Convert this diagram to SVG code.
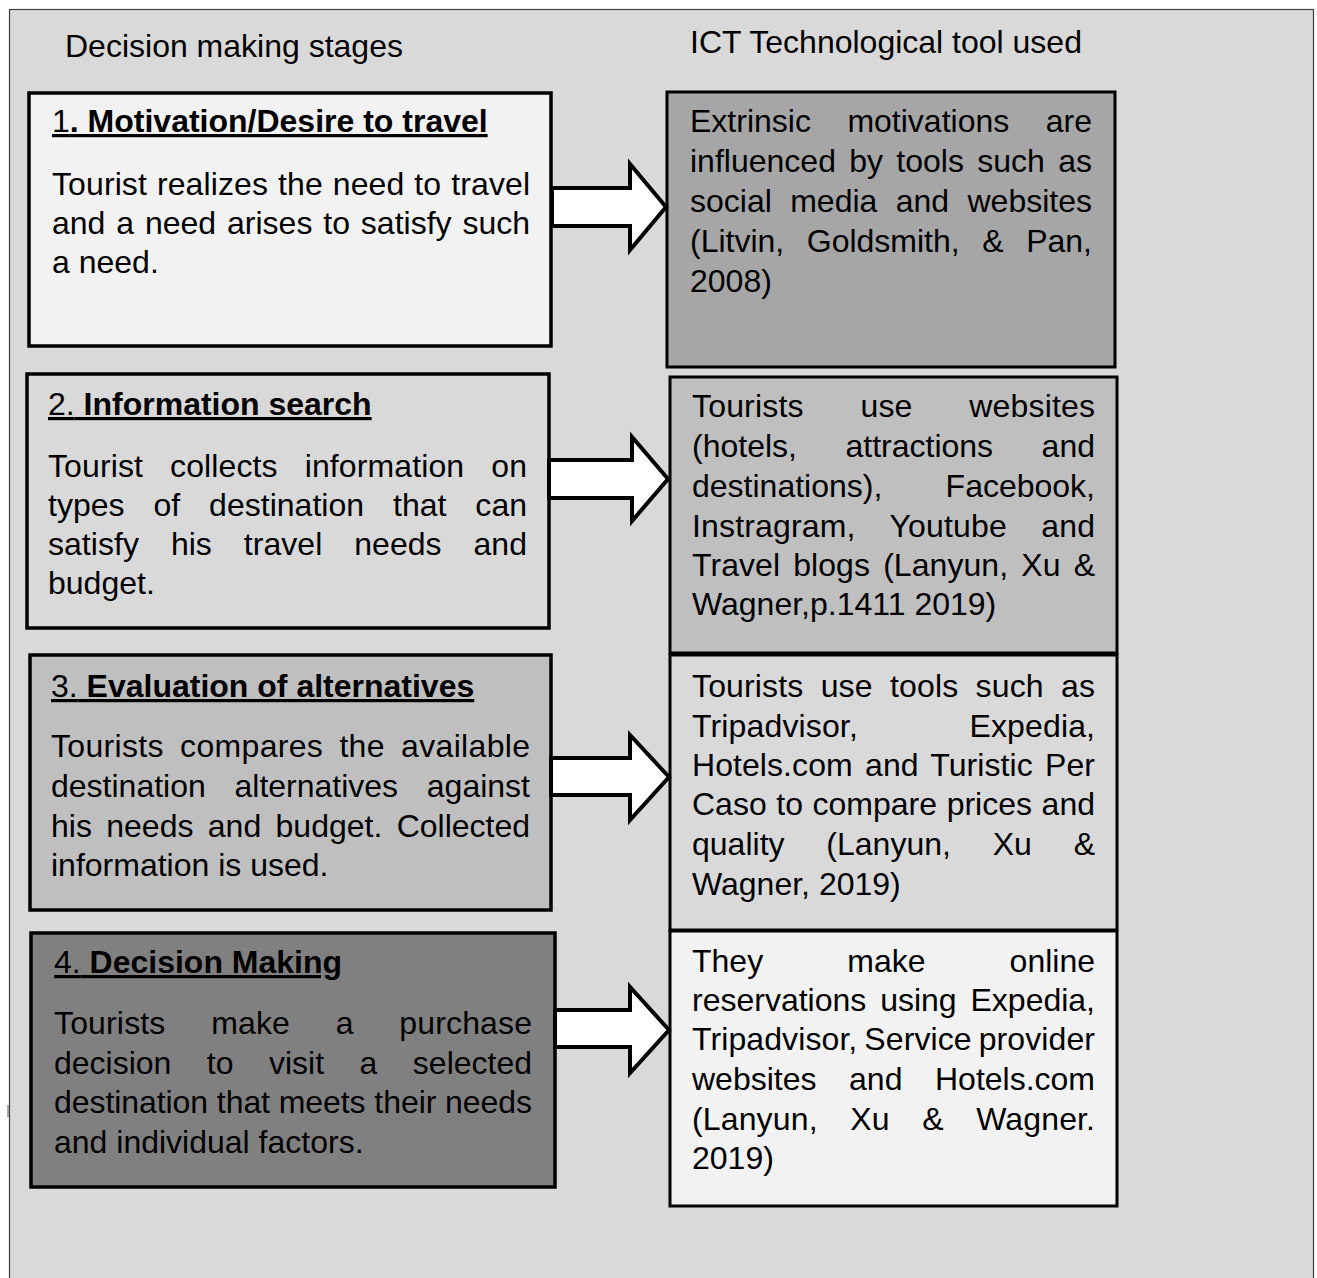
<svg xmlns="http://www.w3.org/2000/svg" width="1317" height="1278" viewBox="0 0 1317 1278">
  <style>
    text { font-family: "Liberation Sans", Arial, sans-serif; font-size: 32px; fill: #000; }
    .b { font-weight: bold; }
    .u { text-decoration: underline; }
    .stage { stroke: #000; stroke-width: 3.5; }
    .tool { stroke: #000; stroke-width: 3; }
    .arrow { fill: #fff; stroke: #000; stroke-width: 4; stroke-linejoin: miter; }
  </style>

  <!-- page background and frame -->
  <rect x="0" y="0" width="1317" height="1278" fill="#fff"/>
  <rect x="9.5" y="9.5" width="1304" height="1300" fill="#d9d9d9" stroke="#404040" stroke-width="1.2"/>
  <line x1="8" y1="1105" x2="8" y2="1117" stroke="#555" stroke-width="1"/>

  <!-- column headings -->
  <text id="head-stages" x="65" y="57">Decision making stages</text>
  <text id="head-tools" x="690" y="53">ICT Technological tool used</text>

  <!-- stage 1 -->
  <g id="stage1">
    <rect class="stage" x="29" y="93" width="522" height="253" fill="#f2f2f2"/>
    <text class="u" x="52" y="132">1<tspan class="b">. Motivation/Desire to travel</tspan></text>
    <text x="52" y="195" word-spacing="1" textLength="478" lengthAdjust="spacing">Tourist realizes the need to travel</text>
    <text x="52" y="234" word-spacing="2" textLength="478" lengthAdjust="spacing">and a need arises to satisfy such</text>
    <text x="52" y="273">a need.</text>
  </g>

  <!-- stage 2 -->
  <g id="stage2">
    <rect class="stage" x="27" y="374" width="522" height="254" fill="#d9d9d9"/>
    <text class="u" x="48" y="415">2.<tspan class="b"> Information search</tspan></text>
    <text x="48" y="477" word-spacing="18" textLength="479" lengthAdjust="spacing">Tourist collects information on</text>
    <text x="48" y="516" word-spacing="20" textLength="479" lengthAdjust="spacing">types of destination that can</text>
    <text x="48" y="555" word-spacing="23" textLength="479" lengthAdjust="spacing">satisfy his travel needs and</text>
    <text x="48" y="594">budget.</text>
  </g>

  <!-- stage 3 -->
  <g id="stage3">
    <rect class="stage" x="30" y="655" width="521" height="255" fill="#bfbfbf"/>
    <text class="u" x="51" y="697">3.<tspan class="b"> Evaluation of alternatives</tspan></text>
    <text x="51" y="757" word-spacing="7" textLength="479" lengthAdjust="spacing">Tourists compares the available</text>
    <text x="51" y="797" word-spacing="19.8" textLength="479" lengthAdjust="spacing">destination alternatives against</text>
    <text x="51" y="837" word-spacing="5.5" textLength="479" lengthAdjust="spacing">his needs and budget. Collected</text>
    <text x="51" y="876">information is used.</text>
  </g>

  <!-- stage 4 -->
  <g id="stage4">
    <rect class="stage" x="31" y="933" width="524" height="254" fill="#808080"/>
    <text class="u" x="54" y="973">4.<tspan class="b"> Decision Making</tspan></text>
    <text x="54" y="1034" word-spacing="36.6" textLength="478" lengthAdjust="spacing">Tourists make a purchase</text>
    <text x="54" y="1074" word-spacing="26.6" textLength="478" lengthAdjust="spacing">decision to visit a selected</text>
    <text x="54" y="1113" word-spacing="0" textLength="478" lengthAdjust="spacing">destination that meets their needs</text>
    <text x="54" y="1153">and individual factors.</text>
  </g>

  <!-- tool 1 -->
  <g id="tool1">
    <rect class="tool" x="667" y="92" width="448" height="275" fill="#a6a6a6"/>
    <text x="690" y="132" word-spacing="27.6" textLength="402" lengthAdjust="spacing">Extrinsic motivations are</text>
    <text x="690" y="172" word-spacing="4.4" textLength="402" lengthAdjust="spacing">influenced by tools such as</text>
    <text x="690" y="212" word-spacing="9.5" textLength="402" lengthAdjust="spacing">social media and websites</text>
    <text x="690" y="252" word-spacing="13.7" textLength="402" lengthAdjust="spacing">(Litvin, Goldsmith, &amp; Pan,</text>
    <text x="690" y="292">2008)</text>
  </g>

  <!-- tool 2 -->
  <g id="tool2">
    <rect class="tool" x="670" y="377" width="447" height="276" fill="#bfbfbf"/>
    <text x="692" y="417" word-spacing="47.7" textLength="403" lengthAdjust="spacing">Tourists use websites</text>
    <text x="692" y="457" word-spacing="39.6" textLength="403" lengthAdjust="spacing">(hotels, attractions and</text>
    <text x="692" y="497" word-spacing="54.4" textLength="403" lengthAdjust="spacing">destinations), Facebook,</text>
    <text x="692" y="537" word-spacing="25.4" textLength="403" lengthAdjust="spacing">Instragram, Youtube and</text>
    <text x="692" y="576" word-spacing="4.2" textLength="403" lengthAdjust="spacing">Travel blogs (Lanyun, Xu &amp;</text>
    <text x="692" y="615">Wagner,p.1411 2019)</text>
  </g>

  <!-- tool 3 -->
  <g id="tool3">
    <rect class="tool" x="670" y="655" width="447" height="275" fill="#d9d9d9"/>
    <text x="692" y="697" word-spacing="8.3" textLength="403" lengthAdjust="spacing">Tourists use tools such as</text>
    <text x="692" y="737" word-spacing="102.5" textLength="403" lengthAdjust="spacing">Tripadvisor, Expedia,</text>
    <text x="692" y="776" word-spacing="3.3" textLength="403" lengthAdjust="spacing">Hotels.com and Turistic Per</text>
    <text x="692" y="815" word-spacing="0.7" textLength="403" lengthAdjust="spacing">Caso to compare prices and</text>
    <text x="692" y="855" word-spacing="32.9" textLength="403" lengthAdjust="spacing">quality (Lanyun, Xu &amp;</text>
    <text x="692" y="895">Wagner, 2019)</text>
  </g>

  <!-- tool 4 -->
  <g id="tool4">
    <rect class="tool" x="670" y="931" width="447" height="275" fill="#f2f2f2"/>
    <text x="692" y="972" word-spacing="75.2" textLength="403" lengthAdjust="spacing">They make online</text>
    <text x="692" y="1011" word-spacing="5" textLength="403" lengthAdjust="spacing">reservations using Expedia,</text>
    <text x="692" y="1050" word-spacing="-2" textLength="403" lengthAdjust="spacing">Tripadvisor, Service provider</text>
    <text x="692" y="1090" word-spacing="23.7" textLength="403" lengthAdjust="spacing">websites and Hotels.com</text>
    <text x="692" y="1130" word-spacing="23.5" textLength="403" lengthAdjust="spacing">(Lanyun, Xu &amp; Wagner.</text>
    <text x="692" y="1169">2019)</text>
  </g>

  <!-- block arrows linking each stage to its tool -->
  <g id="connectors">
    <path class="arrow" d="M552,188 H630 V164 L666,207 L630,250 V226 H552 Z"/>
    <path class="arrow" d="M549,460 H632 V437 L668,479 L632,521 V498 H549 Z"/>
    <path class="arrow" d="M551,758 H630 V735 L669,777 L630,820 V795 H551 Z"/>
    <path class="arrow" d="M555,1010 H630 V987 L669,1030 L630,1073 V1047 H555 Z"/>
  </g>
</svg>
